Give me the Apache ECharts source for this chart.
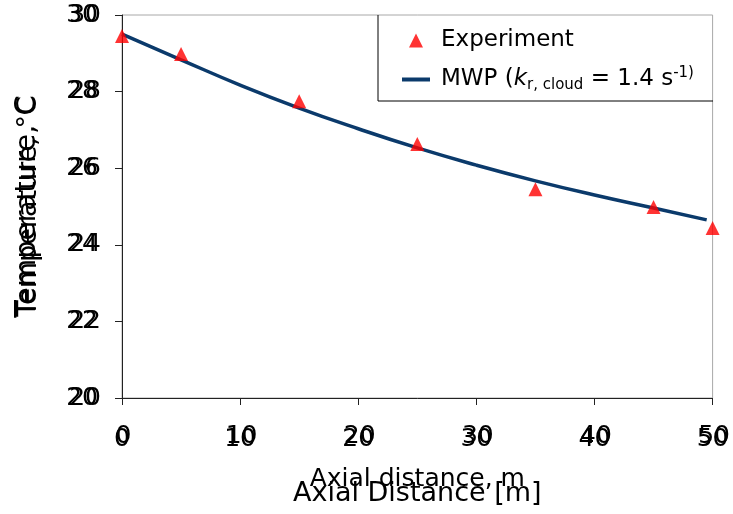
<!DOCTYPE html>
<html>
<head>
<meta charset="utf-8">
<script src="https://cdn.jsdelivr.net/npm/echarts@6/dist/echarts.min.js"></script>
<style>html,body{margin:0;padding:0;background:#fff;}#c{width:733px;height:514px;}</style>
</head>
<body>
<div id="c"></div>
<script>
// Data
const expX = [0, 5, 15, 25, 35, 45, 50];
const expY = [29.45, 28.98, 27.75, 26.63, 25.45, 24.99, 24.44];
const mwpX = [0, 5, 10, 15, 20, 25, 30, 35, 40, 45, 49.5];
const mwpY = [29.5, 28.83, 28.17, 27.57, 27.03, 26.53, 26.08, 25.67, 25.30, 24.96, 24.65];
const xTicks = [0, 10, 20, 30, 40, 50];
const yTicks = [20, 22, 24, 26, 28, 30];

const chart = echarts.init(document.getElementById('c'), null, {renderer: 'canvas'});
const xMin = xTicks[0], xMax = xTicks[xTicks.length - 1];
const yMin = yTicks[0], yMax = yTicks[yTicks.length - 1];

const option = {
  backgroundColor: '#fff',
  animation: false,
  grid: {left: 122, top: 15, right: 20, bottom: 116, show: true, borderColor: '#a8a8a8', borderWidth: 1, backgroundColor: 'transparent'},
  legend: {
    orient: 'vertical', left: 397, top: 24, itemGap: 14, itemWidth: 28, itemHeight: 14,
    symbolKeepAspect: true,
    data: [
      {name: 'Experiment', icon: 'path://M7,0 L14,14 L0,14 Z', itemStyle: {color: '#ff0000'}},
      {name: 'MWP', icon: 'path://M0,0 L28,0 L28,4 L0,4 Z', itemStyle: {color: '#0b3a6b'}}
    ],
    formatter: function (n) {
      if (n === 'MWP') return '{n|MWP (}{i|k}{s|r, cloud}{n| = 1.4 }{n|s}{p|-1)}';
      return '{n|Experiment}';
    },
    textStyle: {
      fontFamily: 'DejaVu Sans', fontSize: 23, color: '#000', padding: [0, 0, 0, 6],
      rich: {
        n: {fontFamily: 'DejaVu Sans', fontSize: 23, color: '#000'},
        i: {fontFamily: 'DejaVu Sans', fontStyle: 'italic', fontSize: 23, color: '#000'},
        s: {fontFamily: 'DejaVu Sans', fontSize: 15, color: '#000', verticalAlign: 'bottom', padding: [12, 0, 0, 0]},
        p: {fontFamily: 'DejaVu Sans', fontSize: 15, color: '#000', verticalAlign: 'top', padding: [0, 0, 10, 0]}
      }
    }
  },
  graphic: [{
    type: 'polyline', silent: true,
    shape: {points: [[378, 15], [378, 101], [713, 101]]},
    style: {stroke: '#000', lineWidth: 1, fill: null}
  }],
  xAxis: [{
    type: 'value', min: xMin, max: xMax, interval: 10, position: 'bottom',
    name: 'Axial Distance [m]', nameLocation: 'middle', nameGap: 82,
    nameTextStyle: {fontFamily: 'DejaVu Sans', fontSize: 27, color: '#000'},
    axisLine: {show: true, onZero: false, lineStyle: {color: '#222', width: 1}},
    axisTick: {show: true, inside: false, length: 7, lineStyle: {color: '#222'}},
    axisLabel: {fontFamily: 'DejaVu Sans', fontSize: 25, color: '#000', margin: 29},
    splitLine: {show: false}
  }, {
    type: 'value', min: xMin, max: xMax, interval: 10, position: 'bottom',
    name: 'Axial distance, m', nameLocation: 'middle', nameGap: 69,
    nameTextStyle: {fontFamily: 'DejaVu Sans', fontSize: 25, color: '#000'},
    axisLine: {show: false}, axisTick: {show: false},
    axisLabel: {fontFamily: 'DejaVu Sans', fontSize: 25, color: '#000', margin: 26, padding: [0, 0, 0, 3]},
    splitLine: {show: false}
  }],
  yAxis: [{
    type: 'value', min: yMin, max: yMax, interval: 2, position: 'left',
    name: 'Temperature, °C', nameLocation: 'middle', nameGap: 80, nameRotate: 90,
    nameTextStyle: {fontFamily: 'DejaVu Sans', fontSize: 27, color: '#000'},
    axisLine: {show: true, onZero: false, lineStyle: {color: '#222', width: 1}},
    axisTick: {show: true, inside: false, length: 7, lineStyle: {color: '#222'}},
    axisLabel: {fontFamily: 'DejaVu Sans', fontSize: 25, color: '#000', margin: 21},
    splitLine: {show: false}
  }, {
    type: 'value', min: yMin, max: yMax, interval: 2, position: 'left',
    name: 'Temperature, C', nameLocation: 'middle', nameGap: 80, nameRotate: 90,
    nameTextStyle: {fontFamily: 'DejaVu Sans', fontSize: 29, color: '#000'},
    axisLine: {show: false}, axisTick: {show: false},
    axisLabel: {fontFamily: 'DejaVu Sans', fontSize: 25, color: '#000', margin: 24},
    splitLine: {show: false}
  }],
  series: [{
    name: 'MWP', type: 'line', xAxisIndex: 0, yAxisIndex: 0,
    data: mwpX.map((x, i) => [x, mwpY[i]]),
    smooth: true, showSymbol: false, symbol: 'none',
    lineStyle: {color: '#0b3a6b', width: 3.5}, itemStyle: {color: '#0b3a6b'}, z: 2
  }, {
    name: 'Experiment', type: 'scatter', xAxisIndex: 0, yAxisIndex: 0,
    data: expX.map((x, i) => [x, expY[i]]),
    symbol: 'triangle', symbolSize: 14,
    itemStyle: {color: '#ff0000'}, z: 3
  }]
};
chart.setOption(option);
</script>
</body>
</html>
